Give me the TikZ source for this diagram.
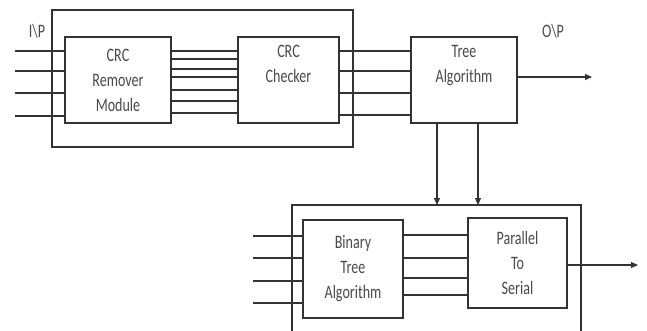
\documentclass[tikz,border=0pt]{standalone}
\usepackage{fontspec}
\newfontfamily\cf[FakeStretch=0.74]{Carlito}
\usetikzlibrary{arrows.meta}
\definecolor{ln}{HTML}{333333}
\definecolor{tx}{HTML}{4A4A4A}
\begin{document}
\begin{tikzpicture}[x=1pt,y=-1pt,
  blk/.style={draw=ln,line width=1.1pt,inner sep=0pt,outer sep=0pt,align=center,
    text=tx,font=\cf\fontsize{19}{25}\selectfont},
  wire/.style={draw=ln,line width=1.1pt},
  arr/.style={wire,-{Triangle[length=7pt,width=6pt]}},
  lbl/.style={text=tx,font=\cf\fontsize{19}{25}\selectfont,inner sep=0pt}]
\useasboundingbox (0,0) rectangle (647,331);
\clip (0,0) rectangle (647,331);
% outer boxes
\node[blk,minimum width=301pt,minimum height=137pt] (out1) at (202.5,78.5) {};
\node[blk,minimum width=289pt,minimum height=140pt] (out2) at (436.5,275) {};
% blocks
\node[blk,fill=white,minimum width=106pt,minimum height=86pt] (rem) at (118,80) {CRC\\Remover\\Module};
\node[blk,fill=white,minimum width=101pt,minimum height=86pt] (chk) at (288.5,80) {CRC\\Checker\\\strut};
\node[blk,fill=white,minimum width=106pt,minimum height=86pt] (tree) at (464,80) {Tree\\Algorithm\\\strut};
\node[blk,fill=white,minimum width=100pt,minimum height=98pt] (bin) at (353,269) {Binary\\Tree\\Algorithm};
\node[blk,fill=white,minimum width=99pt,minimum height=90pt] (pts) at (517.5,263) {Parallel\\To\\Serial};
% labels
\node[lbl] (ip) at (37,31) {I\textbackslash P};
\node[lbl] (op) at (553,31) {O\textbackslash P};
% top inputs
\foreach \s in {14,34,56,79}
  \draw[wire] ([xshift=-50pt,yshift=-\s pt]rem.north west) -- ([yshift=-\s pt]rem.north west);
% remover -> checker
\foreach \s in {14,22,32,40,53,64,76}
  \draw[wire] ([yshift=-\s pt]rem.north east) -- ([yshift=-\s pt]chk.north west);
% checker -> tree
\foreach \s in {14,34,56,78}
  \draw[wire] ([yshift=-\s pt]chk.north east) -- ([yshift=-\s pt]tree.north west);
% tree output
\coordinate (oend) at ([xshift=75pt,yshift=-40pt]tree.north east);
\draw[arr] ([yshift=-40pt]tree.north east) -- (oend);
% tree -> lower box
\coordinate (t1) at ([xshift=26pt]tree.south west);
\coordinate (t2) at ([xshift=67pt]tree.south west);
\draw[arr] (t1) -- (t1 |- out2.north);
\draw[arr] (t2) -- (t2 |- out2.north);
% bottom inputs
\foreach \s in {16,38,61,83}
  \draw[wire] ([xshift=-50pt,yshift=-\s pt]bin.north west) -- ([yshift=-\s pt]bin.north west);
% bin -> pts
\foreach \s in {17,40,60,77}
  \draw[wire] ([yshift=-\s pt]pts.north west -| bin.east) -- ([yshift=-\s pt]pts.north west);
% final output
\coordinate (fend) at ([xshift=71pt,yshift=-47pt]pts.north east);
\draw[arr] ([yshift=-47pt]pts.north east) -- (fend);
\end{tikzpicture}
\end{document}
